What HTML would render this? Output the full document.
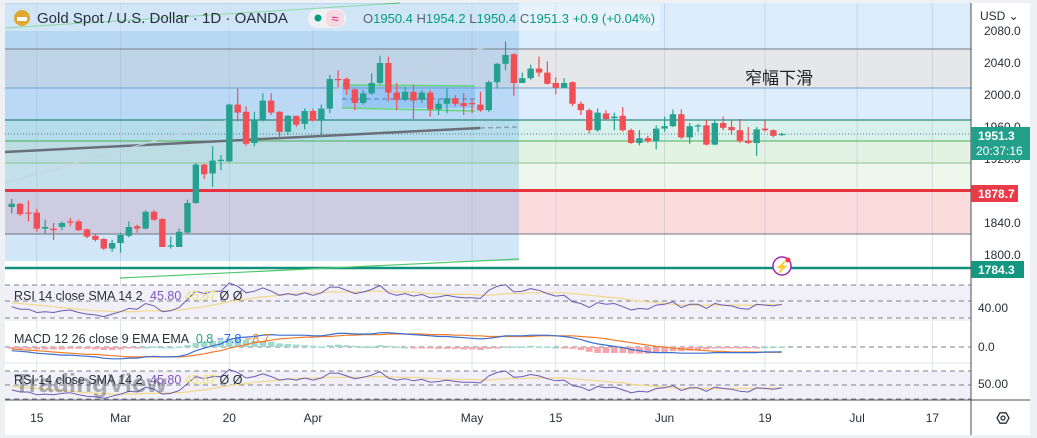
<!DOCTYPE html>
<html><head><meta charset="utf-8"><style>
html,body{margin:0;padding:0;background:#eef0f3;}
svg{display:block;font-family:"Liberation Sans","Noto Sans CJK SC",sans-serif;}
</style></head><body>
<svg id="c" width="1037" height="438" xmlns="http://www.w3.org/2000/svg">
<rect x="0" y="0" width="1037" height="438" fill="#eef0f3"/>
<rect x="5" y="3" width="1025" height="432" fill="#ffffff"/>
<g id="zones">
<rect x="5" y="3" width="966" height="46" fill="#dbecfa"/>
<rect x="5" y="49" width="966" height="39" fill="#e6e7e9"/>
<rect x="5" y="88" width="966" height="32" fill="#deedfb"/>
<rect x="5" y="120" width="966" height="21" fill="#d9f1ec"/>
<rect x="5" y="141" width="966" height="22" fill="#e3f3e3"/>
<rect x="5" y="163" width="966" height="27" fill="#eef7ec"/>
<rect x="5" y="192" width="966" height="42" fill="#fbdcdd"/>
<rect x="5" y="3" width="514" height="258" fill="rgba(90,165,235,0.28)"/>
</g>
<g id="grid"></g>
<g>
<line x1="5" y1="49" x2="971" y2="49" stroke="#787b86" stroke-width="1"/>
<line x1="5" y1="88" x2="971" y2="88" stroke="#6a9fcf" stroke-width="1"/>
<line x1="5" y1="120" x2="971" y2="120" stroke="#2b8a7e" stroke-width="1.2"/>
<line x1="5" y1="141" x2="971" y2="141" stroke="#4caf50" stroke-width="1"/>
<line x1="5" y1="163" x2="971" y2="163" stroke="#8bc68b" stroke-width="1"/>
<line x1="5" y1="190.5" x2="971" y2="190.5" stroke="#e8323f" stroke-width="3"/>
<line x1="5" y1="234" x2="971" y2="234" stroke="#6f7480" stroke-width="1"/>
<line x1="5" y1="268" x2="971" y2="268" stroke="#0f8f7c" stroke-width="2.5"/>
<line x1="5" y1="134" x2="971" y2="134" stroke="#5a7f8a" stroke-width="1" stroke-dasharray="1,2"/>
<line x1="5" y1="152" x2="480" y2="128" stroke="#6b6f78" stroke-width="2.5"/>
<line x1="480" y1="128" x2="519" y2="127" stroke="#8aa0b5" stroke-width="1.5" stroke-dasharray="5,3"/>
<line x1="5" y1="183" x2="505" y2="42" stroke="#c8d4de" stroke-width="1.5" opacity="0.8"/>
<line x1="120" y1="278" x2="519" y2="259" stroke="#4cc76a" stroke-width="1.2"/>
<line x1="5" y1="28" x2="400" y2="3" stroke="#4cc76a" stroke-width="1"/>
<rect x="342" y="85" width="133" height="23" fill="rgba(80,160,240,0.3)"/>
<line x1="342" y1="85" x2="475" y2="86" stroke="#66d67a" stroke-width="1.5"/>
<line x1="342" y1="108" x2="475" y2="111" stroke="#66d67a" stroke-width="1.5"/>
<line x1="342" y1="99" x2="475" y2="99" stroke="#5078b0" stroke-width="1" stroke-dasharray="5,3"/>
</g>
<g id="candles"></g>
<text x="745" y="84" font-size="17" fill="#222">窄幅下滑</text>
<g>
<circle cx="782" cy="266" r="9" fill="#fff" stroke="#9c27b0" stroke-width="1.5"/>
<text x="782" y="271" font-size="12" text-anchor="middle" fill="#9c27b0">⚡</text>
<circle cx="788" cy="260" r="2.5" fill="#f23645"/>
</g>
<rect x="5" y="4" width="655" height="27" fill="rgba(255,255,255,0.35)"/>
<circle cx="22" cy="18" r="8" fill="#e0a82e"/>
<rect x="17" y="17" width="10" height="4" fill="#fff" rx="1"/>
<text x="37" y="23" font-size="15" fill="#2a2e39">Gold Spot / U.S. Dollar · 1D · OANDA</text>
<rect x="308" y="9" width="38" height="19" rx="9" fill="#eef1f4"/>
<circle cx="318" cy="18" r="3.5" fill="#089981"/>
<rect x="326" y="10" width="18" height="17" rx="6" fill="#f7d9e3"/>
<text x="335" y="23" font-size="13" text-anchor="middle" fill="#e91e63">≈</text>
<text x="363" y="23" font-size="13" fill="#089981"><tspan fill="#55616f">O</tspan>1950.4 <tspan fill="#55616f">H</tspan>1954.2 <tspan fill="#55616f">L</tspan>1950.4 <tspan fill="#55616f">C</tspan>1951.3 +0.9 (+0.04%)</text>
<g id="panels"></g>
<rect x="971" y="3" width="59" height="432" fill="#ffffff"/>
<line x1="971" y1="3" x2="971" y2="435" stroke="#4a4e59" stroke-width="1"/>
<line x1="5" y1="400" x2="1030" y2="400" stroke="#4a4e59" stroke-width="1"/>
<g id="axis" font-size="12" fill="#2a2e39"></g>
<text x="980" y="20" font-size="12" fill="#2a2e39">USD ⌄</text>
<g>
<rect x="971" y="127" width="59" height="33" fill="#22a08c"/>
<text x="978" y="140" font-size="12" font-weight="bold" fill="#fff">1951.3</text>
<text x="976" y="155" font-size="12" fill="#fff">20:37:16</text>
</g>
<g>
<rect x="971" y="185" width="47" height="17" fill="#ea3a48"/>
<text x="978" y="198" font-size="12" font-weight="bold" fill="#fff">1878.7</text>
</g>
<g>
<rect x="971" y="261" width="53" height="17" fill="#139781"/>
<text x="978" y="274" font-size="12" font-weight="bold" fill="#fff">1784.3</text>
</g>
<g>
<polygon points="997,418 1000,412.8 1006,412.8 1009,418 1006,423.2 1000,423.2" fill="none" stroke="#2a2e39" stroke-width="1.3"/>
<circle cx="1003" cy="418" r="2" fill="none" stroke="#2a2e39" stroke-width="1.3"/>
</g>
<g id="timeaxis" font-size="12" fill="#2a2e39"></g>
</svg>
<script>
const opens=[1860,1864,1853,1853,1833,1833,1835,1842,1842,1832,1824,1820,1808,1815,1824,1836,1833,1854,1845,1811,1810,1828,1865,1913,1902,1918,1917,1988,1979,1940,1969,1993,1979,1954,1974,1964,1980,1968,1983,2020,2020,2007,1990,2002,2015,2040,2003,1994,2004,1994,2003,1982,1989,1996,1990,1990,1988,1981,2016,2039,2051,2015,2021,2033,2028,2015,2009,2016,1989,1981,1956,1977,1971,1974,1956,1940,1946,1942,1958,1961,1976,1947,1961,1962,1938,1965,1960,1956,1943,1940,1958,1956,1950];
const highs=[1870,1865,1868,1858,1844,1840,1842,1846,1844,1833,1827,1821,1819,1828,1842,1838,1856,1856,1846,1823,1833,1869,1915,1914,1936,1925,1989,2008,1986,1979,2002,2002,1980,1975,1974,1983,1983,1988,2025,2031,2022,2008,2006,2027,2049,2048,2015,2010,2013,2006,2006,1994,2008,2000,2002,1994,2004,2018,2040,2067,2052,2028,2038,2048,2042,2022,2021,2017,1992,1983,1983,1981,1978,1985,1958,1956,1949,1962,1973,1982,1982,1965,1964,1969,1969,1973,1969,1970,1960,1960,1968,1957,1953];
const lows=[1852,1849,1842,1829,1827,1819,1831,1836,1830,1821,1817,1806,1804,1803,1822,1828,1832,1843,1810,1808,1810,1827,1864,1895,1885,1906,1916,1967,1936,1936,1967,1975,1944,1950,1960,1957,1967,1948,1977,2010,2000,1981,1988,2000,2013,1992,1981,1992,1970,1990,1973,1975,1977,1986,1975,1977,1979,1979,2008,2031,1999,2015,2019,2023,2013,2001,2009,1986,1975,1952,1954,1969,1956,1954,1939,1937,1940,1932,1954,1960,1945,1939,1954,1937,1937,1956,1950,1940,1939,1924,1954,1947,1949];
const closes=[1864,1851,1852,1833,1835,1831,1840,1841,1831,1823,1819,1808,1815,1825,1835,1833,1854,1844,1810,1812,1829,1865,1913,1901,1918,1919,1988,1978,1939,1969,1993,1978,1954,1974,1963,1980,1968,1983,2020,2019,2007,1990,2002,2015,2040,2003,1994,2004,1993,2003,1982,1989,1996,1989,1986,1989,1981,2016,2039,2050,2015,2021,2033,2028,2014,2009,2015,1989,1981,1956,1978,1970,1973,1956,1940,1946,1942,1958,1961,1976,1947,1961,1962,1938,1965,1959,1956,1942,1940,1957,1956,1949,1951.3];
const rsiVals=[43,40,40,36,37,36,38,39,36,34,33,31,34,37,41,40,47,44,37,38,42,52,62,59,62,62,72,68,60,62,66,62,57,59,57,60,57,60,67,67,63,59,61,64,69,60,57,59,56,58,54,55,57,55,54,54,53,63,68,70,61,62,65,63,59,56,57,49,47,42,48,46,47,43,39,41,40,45,46,49,42,46,46,41,47,45,44,41,40,46,45,44,45.8];
const rsiSma=[48,47,46,45,44,43,42,41,40,39,38,38,37,37,37,37,38,38,38,39,39,40,42,43,45,47,49,51,52,54,55,56,57,58,59,60,60,60,61,61,61,61,61,62,62,62,61,61,61,60,59,59,58,58,58,58,57,57,58,59,59,59,60,60,60,60,60,59,58,57,56,55,54,53,51,50,49,48,47,46,45,45,45,45,45,45,45,45,45,45,45.5,45.6,45.67];
const macdVals=[-6,-7,-8,-10,-11,-12,-13,-13,-14,-15,-16,-18,-19,-19,-18,-18,-16,-15,-16,-16,-15,-12,-6,-2,2,5,12,15,16,17,19,20,19,19,19,19,18,18,20,22,22,21,21,21,23,23,22,21,20,19,18,17,17,16,15,14,13,14,16,18,18,18,19,19,19,18,17,15,12,8,5,3,1,-1,-4,-6,-8,-9,-9,-9,-10,-10,-10,-10,-9,-9,-9,-9,-9,-9,-8,-8,-7.8];
const signalVals=[-3,-4,-5,-6,-7,-8,-9,-10,-11,-12,-12,-13,-14,-15,-16,-16,-16,-16,-16,-16,-16,-15,-13,-11,-8,-6,-2,1,4,7,9,11,13,14,15,16,16,17,17,18,19,19,20,20,20,21,21,21,21,21,20,20,20,19,19,18,18,17,17,17,17,17,17,18,18,18,18,18,17,16,15,13,11,9,7,5,3,1,0,-2,-3,-4,-5,-6,-7,-7,-8,-8,-8,-8,-8.5,-8.6,-8.7];
const priceTicks=[2080,2040,2000,1960,1920,1840,1800];
const timeLabels=["15","Mar","20","Apr","May","15","Jun","19","Jul","17"];
const timeIdx=[3,13,26,36,55,65,78,90,101,110];

const NS="http://www.w3.org/2000/svg";
function mk(tag,attrs,parent){const e=document.createElementNS(NS,tag);for(const k in attrs)e.setAttribute(k,attrs[k]);parent.appendChild(e);return e;}
const X0=11.7,DX=8.37;
const xOf=i=>X0+i*DX;
const yP=p=>95-(p-2000)*0.8;
const yR1=v=>301-(v-50)*0.82;
const yR3=v=>385-(v-50)*0.7;
const yM=v=>347-v*0.62;

const grid=document.getElementById('grid');
timeIdx.forEach(i=>{const l=mk('line',{x1:xOf(i),y1:3,x2:xOf(i),y2:400,stroke:'rgba(160,175,195,0.35)','stroke-width':1},grid);

});

const cg=document.getElementById('candles');
for(let i=0;i<closes.length;i++){
  const up=closes[i]>=opens[i];const col=up?'#26a18f':'#ef4f55';
  const x=xOf(i);
  const g=mk('g',{},cg);
  
  
  mk('line',{x1:x,y1:yP(highs[i]),x2:x,y2:yP(lows[i]),stroke:col,'stroke-width':1.2},g);
  const t=Math.min(yP(opens[i]),yP(closes[i]));const h=Math.max(1.2,Math.abs(yP(opens[i])-yP(closes[i])));
  mk('rect',{x:x-3.2,y:t,width:6.4,height:h,fill:col},g);
}

const pg=document.getElementById('panels');
function dash(y){mk('line',{x1:5,y1:y,x2:971,y2:y,stroke:'#7b7f8a','stroke-width':1,'stroke-dasharray':'5,4'},pg);}
mk('rect',{x:5,y:285,width:966,height:33,fill:'#f1eff8'},pg);
mk('rect',{x:5,y:371,width:966,height:28,fill:'#f1eff8'},pg);
[285,301,318,347,371,385,399].forEach(dash);
mk('line',{x1:5,y1:320,x2:971,y2:320,stroke:'#e0e3eb'},pg);
mk('line',{x1:5,y1:363,x2:971,y2:363,stroke:'#e0e3eb'},pg);
function poly(arr,yf,color,name,w){
  const pts=arr.map((v,i)=>xOf(i).toFixed(1)+','+yf(v).toFixed(1)).join(' ');
  const p=mk('polyline',{points:pts,fill:'none',stroke:color,'stroke-width':w||1},pg);
  
  
}
poly(rsiSma,yR1,'#f2d88a','rsi-sma-line',1.2);
poly(rsiVals,yR1,'#6b5bb5','rsi-line',1);
for(let i=0;i<macdVals.length;i++){
  const h=(macdVals[i]-signalVals[i])*0.6;
  const up=h>=0;
  const r=mk('rect',{x:xOf(i)-3.3,y:up?347-h:347,width:6.6,height:Math.max(1.5,Math.abs(h)),fill:up?'#9fd8cf':'#f5a5ab'},pg);
  
  
}
poly(signalVals,yM,'#f07c2a','macd-signal-line',1.2);
poly(macdVals,yM,'#3a6fd0','macd-line',1.2);
poly(rsiSma,yR3,'#f2d88a','rsi2-sma-line',1.2);
poly(rsiVals,yR3,'#6b5bb5','rsi2-line',1);

function legend(y,html,name){const t=mk('text',{x:14,y:y,'font-size':12.5,fill:'#2a2e39'},pg);t.innerHTML=html;

}
legend(300,'RSI 14 close SMA 14 2 <tspan fill="#7e57c2" dx="4">45.80</tspan> <tspan fill="#f2e35c">45.67</tspan> Ø Ø','rsi-legend');
legend(343,'MACD 12 26 close 9 EMA EMA <tspan fill="#22a08c" dx="4">0.8</tspan> <tspan fill="#2962ff">−7.8</tspan> <tspan fill="#f07c2a">−8.7</tspan>','macd-legend');
legend(384,'RSI 14 close SMA 14 2 <tspan fill="#7e57c2" dx="4">45.80</tspan> <tspan fill="#f2e35c">45.67</tspan> Ø Ø','rsi2-legend');
const wm=mk('text',{x:14,y:392,'font-size':26,'font-weight':'bold',fill:'rgba(60,64,75,0.4)'},pg);
wm.textContent='TradingView';



const ax=document.getElementById('axis');
priceTicks.forEach(p=>{const t=mk('text',{x:984,y:yP(p)+4},ax);t.textContent=p.toFixed(1);

});
[['40.00',312],['0.0',351],['50.00',388]].forEach(a=>{const t=mk('text',{x:978,y:a[1]},ax);t.textContent=a[0];

});
const ta=document.getElementById('timeaxis');
timeLabels.forEach((s,k)=>{const t=mk('text',{x:xOf(timeIdx[k]),y:422,'text-anchor':'middle'},ta);t.textContent=s;

});
</script>
</body></html>
